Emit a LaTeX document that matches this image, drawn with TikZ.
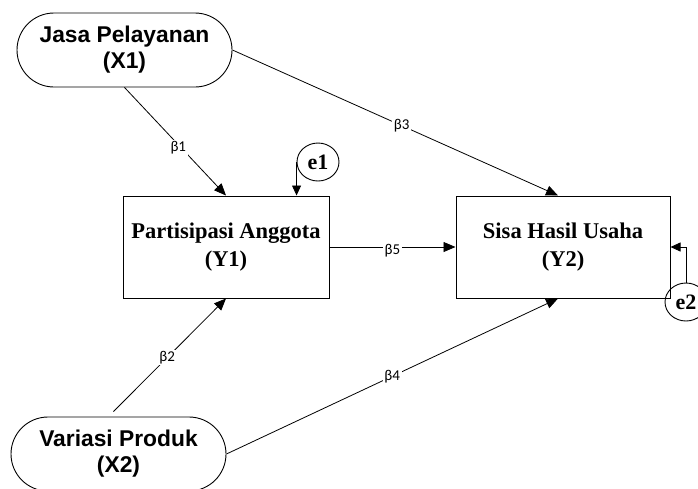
\documentclass[tikz,border=0pt]{standalone}
\usepackage{fontspec}
\setmainfont{Liberation Serif}
\newfontfamily\arialfont{Liberation Sans}
\newfontfamily\calfont{Carlito}
\usetikzlibrary{arrows.meta,shapes.misc,shapes.geometric}
\tikzset{
  exog/.style={rounded rectangle, draw, line width=0.9pt, minimum width=215pt, minimum height=74pt, inner sep=0pt, align=center, font=\arialfont\bfseries\fontsize{22.8}{26}\selectfont},
  endog/.style={rectangle, draw, line width=1pt, minimum height=102pt, inner sep=0pt, align=center, font=\bfseries\fontsize{22.5}{28}\selectfont},
  errc/.style={ellipse, draw, line width=0.9pt, minimum width=42pt, minimum height=38pt, inner sep=0pt, font=\bfseries\fontsize{22}{24}\selectfont},
  path/.style={draw, line width=0.8pt, -{Triangle[length=12pt,width=10pt]}},
  lbl/.style={fill=white, inner sep=1.5pt, font=\calfont\fontsize{15}{17}\selectfont},
}
\begin{document}
\begin{tikzpicture}[x=1pt,y=-1pt]
\useasboundingbox (0,0) rectangle (698,488);
\node[exog] (X1) at (124.5,50) {Jasa Pelayanan\\(X1)};
\node[exog] (X2) at (118.5,454) {Variasi Produk\\(X2)};
\node[endog, minimum width=206pt] (Y1) at (226,247) {Partisipasi Anggota\\(Y1)};
\node[endog, minimum width=214pt] (Y2) at (563,247) {Sisa Hasil Usaha\\(Y2)};
\node[errc] (e1) at (318,162) {e1};
\node[errc] (e2) at (686,302) {e2};

\draw[path] (X1.south) -- node[lbl, pos=0.53, yshift=-3pt] {β1} (Y1.north);
\draw[path, shorten <=7pt] ([xshift=-10pt]X2.north) -- node[lbl, pos=0.5] {β2} (Y1.south);
\draw[path] (X1.east) -- node[lbl, pos=0.52] {β3} ([xshift=-5pt]Y2.north);
\draw[path] (X2.east) -- node[lbl, pos=0.5] {β4} ([xshift=-5pt]Y2.south);
\draw[path] (Y1.east) -- node[lbl, pos=0.5, yshift=-4pt] {β5} (Y2.east -| Y2.west);
\draw[path, -{Triangle[length=10pt,width=9pt]}] (e1.west) -- (e1.west |- Y1.north);
\draw[path, -{Triangle[length=10pt,width=9pt]}] (e2.north) |- (Y2.east);
\end{tikzpicture}
\end{document}
